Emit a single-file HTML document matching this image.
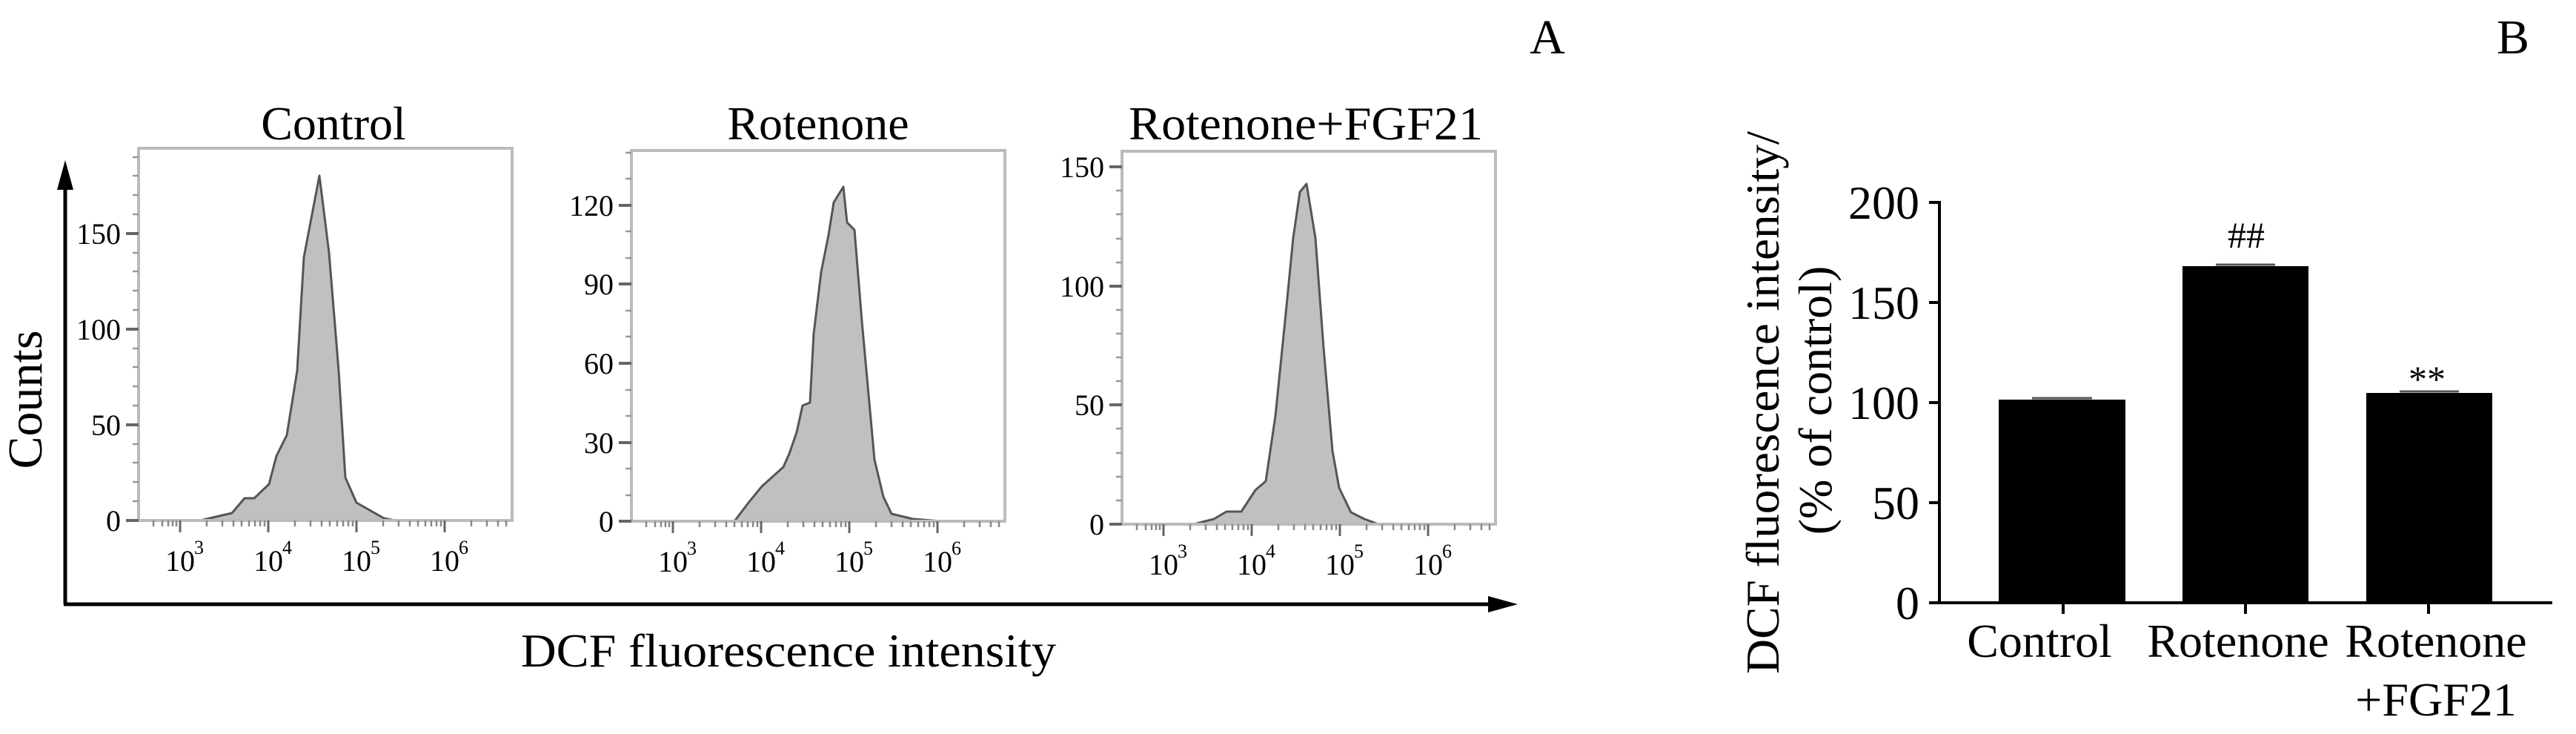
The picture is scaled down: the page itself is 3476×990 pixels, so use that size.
<!DOCTYPE html>
<html><head><meta charset="utf-8"><style>
html,body{margin:0;padding:0;background:#fff;}
svg{display:block;}
text{font-family:"Liberation Serif",serif;fill:#000;}
</style></head><body>
<svg width="3476" height="990" viewBox="0 0 3476 990" xmlns="http://www.w3.org/2000/svg">
<defs>
<g id="xticks">
  <!-- major ticks at dx 56,175,294,413 ; minor -->
  <g stroke="#666" stroke-width="3">
    <line x1="56" y1="0" x2="56" y2="16"/><line x1="175" y1="0" x2="175" y2="16"/>
    <line x1="294" y1="0" x2="294" y2="16"/><line x1="413" y1="0" x2="413" y2="16"/>
  </g>
  <g stroke="#888" stroke-width="2.5">
    <line x1="20" y1="0" x2="20" y2="8"/><line x1="32" y1="0" x2="32" y2="8"/><line x1="40" y1="0" x2="40" y2="8"/><line x1="46" y1="0" x2="46" y2="8"/><line x1="51" y1="0" x2="51" y2="8"/>
    <line x1="92" y1="0" x2="92" y2="8"/><line x1="113" y1="0" x2="113" y2="8"/><line x1="128" y1="0" x2="128" y2="8"/><line x1="139" y1="0" x2="139" y2="8"/><line x1="149" y1="0" x2="149" y2="8"/><line x1="157" y1="0" x2="157" y2="8"/><line x1="164" y1="0" x2="164" y2="8"/><line x1="170" y1="0" x2="170" y2="8"/>
    <line x1="211" y1="0" x2="211" y2="8"/><line x1="232" y1="0" x2="232" y2="8"/><line x1="247" y1="0" x2="247" y2="8"/><line x1="258" y1="0" x2="258" y2="8"/><line x1="268" y1="0" x2="268" y2="8"/><line x1="276" y1="0" x2="276" y2="8"/><line x1="283" y1="0" x2="283" y2="8"/><line x1="289" y1="0" x2="289" y2="8"/>
    <line x1="330" y1="0" x2="330" y2="8"/><line x1="351" y1="0" x2="351" y2="8"/><line x1="366" y1="0" x2="366" y2="8"/><line x1="377" y1="0" x2="377" y2="8"/><line x1="387" y1="0" x2="387" y2="8"/><line x1="395" y1="0" x2="395" y2="8"/><line x1="402" y1="0" x2="402" y2="8"/><line x1="408" y1="0" x2="408" y2="8"/>
    <line x1="449" y1="0" x2="449" y2="8"/><line x1="470" y1="0" x2="470" y2="8"/><line x1="485" y1="0" x2="485" y2="8"/><line x1="496" y1="0" x2="496" y2="8"/>
  </g>
  <g font-size="40">
    <text x="56" y="68" text-anchor="middle">10</text><text x="75" y="45" font-size="26">3</text>
    <text x="175" y="68" text-anchor="middle">10</text><text x="194" y="45" font-size="26">4</text>
    <text x="294" y="68" text-anchor="middle">10</text><text x="313" y="45" font-size="26">5</text>
    <text x="413" y="68" text-anchor="middle">10</text><text x="432" y="45" font-size="26">6</text>
  </g>
</g>
</defs>

<!-- Panel labels -->
<text x="2088" y="72" font-size="66" text-anchor="middle">A</text>
<text x="3391" y="72" font-size="66" text-anchor="middle">B</text>

<!-- Big axes arrows -->
<line x1="88" y1="815" x2="88" y2="240" stroke="#000" stroke-width="5"/>
<polygon points="88,216 77,256 99,256" fill="#000"/>
<line x1="86" y1="815" x2="2020" y2="815" stroke="#000" stroke-width="5"/>
<polygon points="2048,815 2008,804 2008,826" fill="#000"/>
<text transform="translate(56,539) rotate(-90)" font-size="66" text-anchor="middle">Counts</text>
<text x="703" y="899" font-size="64" textLength="722" lengthAdjust="spacingAndGlyphs">DCF fluorescence intensity</text>

<!-- Panel 1: Control -->
<g transform="translate(187,0)">
  <text x="263" y="188" font-size="64" text-anchor="middle">Control</text>
  <polygon points="0,702 83,702 126,692 143,672 156,672 176,653 186,615 200,587 214,500 223,347 244,237 257,341 270,500 279,644 294,678 331,699 346,702 504,702" fill="#c0c0c0" stroke="#555" stroke-width="3" stroke-linejoin="round"/>
  <rect x="0" y="200" width="504" height="502" fill="none" stroke="#bbb" stroke-width="4"/>
  <g stroke="#999" stroke-width="2.5">
    <line x1="-8" y1="676" x2="0" y2="676"/><line x1="-8" y1="650" x2="0" y2="650"/><line x1="-8" y1="624" x2="0" y2="624"/><line x1="-8" y1="599" x2="0" y2="599"/>
    <line x1="-8" y1="547" x2="0" y2="547"/><line x1="-8" y1="521" x2="0" y2="521"/><line x1="-8" y1="495" x2="0" y2="495"/><line x1="-8" y1="470" x2="0" y2="470"/>
    <line x1="-8" y1="418" x2="0" y2="418"/><line x1="-8" y1="392" x2="0" y2="392"/><line x1="-8" y1="366" x2="0" y2="366"/><line x1="-8" y1="341" x2="0" y2="341"/>
    <line x1="-8" y1="289" x2="0" y2="289"/><line x1="-8" y1="263" x2="0" y2="263"/><line x1="-8" y1="237" x2="0" y2="237"/><line x1="-8" y1="212" x2="0" y2="212"/>
  </g>
  <g stroke="#666" stroke-width="4">
    <line x1="-17" y1="702" x2="0" y2="702"/><line x1="-17" y1="573" x2="0" y2="573"/><line x1="-17" y1="444" x2="0" y2="444"/><line x1="-17" y1="315" x2="0" y2="315"/>
  </g>
  <g font-size="40" text-anchor="end">
    <text x="-24" y="716">0</text><text x="-24" y="587">50</text><text x="-24" y="458">100</text><text x="-24" y="329">150</text>
  </g>
  <g transform="translate(0,702)"><use href="#xticks"/></g>
</g>

<!-- Panel 2: Rotenone -->
<g transform="translate(852,0)">
  <text x="252" y="188" font-size="64" text-anchor="middle">Rotenone</text>
  <polygon points="0,703 139,703 158,678 176,656 205,630 213,612 223,583 231,547 241,543 246,450 256,367 266,317 273,273 286,252 291,300 301,310 311,433 321,543 328,620 340,670 351,693 380,700 418,703 504,703" fill="#c0c0c0" stroke="#555" stroke-width="3" stroke-linejoin="round"/>
  <rect x="0" y="203" width="504" height="500" fill="none" stroke="#bbb" stroke-width="4"/>
  <g stroke="#999" stroke-width="2.5">
    <line x1="-8" y1="668" x2="0" y2="668"/><line x1="-8" y1="632" x2="0" y2="632"/>
    <line x1="-8" y1="561" x2="0" y2="561"/><line x1="-8" y1="526" x2="0" y2="526"/>
    <line x1="-8" y1="454" x2="0" y2="454"/><line x1="-8" y1="419" x2="0" y2="419"/>
    <line x1="-8" y1="348" x2="0" y2="348"/><line x1="-8" y1="312" x2="0" y2="312"/>
    <line x1="-8" y1="241" x2="0" y2="241"/><line x1="-8" y1="206" x2="0" y2="206"/>
  </g>
  <g stroke="#666" stroke-width="4">
    <line x1="-17" y1="703" x2="0" y2="703"/><line x1="-17" y1="597" x2="0" y2="597"/><line x1="-17" y1="490" x2="0" y2="490"/><line x1="-17" y1="383" x2="0" y2="383"/><line x1="-17" y1="277" x2="0" y2="277"/>
  </g>
  <g font-size="40" text-anchor="end">
    <text x="-24" y="717">0</text><text x="-24" y="611">30</text><text x="-24" y="504">60</text><text x="-24" y="397">90</text><text x="-24" y="291">120</text>
  </g>
  <g transform="translate(0,703)"><use href="#xticks"/></g>
</g>

<!-- Panel 3: Rotenone+FGF21 -->
<g transform="translate(1514,0)">
  <text x="248" y="188" font-size="64" text-anchor="middle" textLength="478" lengthAdjust="spacingAndGlyphs">Rotenone+FGF21</text>
  <polygon points="0,707 97,707 124,700 141,690 161,690 180,661 194,649 207,561 221,423 231,321 240,259 249,248 261,321 272,469 284,608 293,658 309,691 327,700 346,707 504,707" fill="#c0c0c0" stroke="#555" stroke-width="3" stroke-linejoin="round"/>
  <rect x="0" y="204" width="504" height="503" fill="none" stroke="#bbb" stroke-width="4"/>
  <g stroke="#999" stroke-width="2.5">
    <line x1="-8" y1="675" x2="0" y2="675"/><line x1="-8" y1="643" x2="0" y2="643"/><line x1="-8" y1="611" x2="0" y2="611"/><line x1="-8" y1="578" x2="0" y2="578"/>
    <line x1="-8" y1="514" x2="0" y2="514"/><line x1="-8" y1="482" x2="0" y2="482"/><line x1="-8" y1="450" x2="0" y2="450"/><line x1="-8" y1="418" x2="0" y2="418"/>
    <line x1="-8" y1="354" x2="0" y2="354"/><line x1="-8" y1="322" x2="0" y2="322"/><line x1="-8" y1="289" x2="0" y2="289"/><line x1="-8" y1="257" x2="0" y2="257"/>
  </g>
  <g stroke="#666" stroke-width="4">
    <line x1="-17" y1="707" x2="0" y2="707"/><line x1="-17" y1="546" x2="0" y2="546"/><line x1="-17" y1="386" x2="0" y2="386"/><line x1="-17" y1="225" x2="0" y2="225"/>
  </g>
  <g font-size="40" text-anchor="end">
    <text x="-24" y="721">0</text><text x="-24" y="560">50</text><text x="-24" y="400">100</text><text x="-24" y="239">150</text>
  </g>
  <g transform="translate(0,707)"><use href="#xticks"/></g>
</g>

<!-- Bar chart B -->
<text transform="translate(2400,543) rotate(-90)" font-size="64" text-anchor="middle" textLength="732" lengthAdjust="spacingAndGlyphs">DCF fluorescence intensity/</text>
<text transform="translate(2471,540) rotate(-90)" font-size="64" text-anchor="middle">(% of control)</text>

<rect x="2697" y="539" width="171" height="274" fill="#000"/>
<line x1="2742" y1="537" x2="2823" y2="537" stroke="#555" stroke-width="3"/>
<rect x="2945" y="359" width="170" height="454" fill="#000"/>
<line x1="2990" y1="357" x2="3070" y2="357" stroke="#555" stroke-width="3"/>
<rect x="3193" y="530" width="170" height="283" fill="#000"/>
<line x1="3238" y1="528" x2="3318" y2="528" stroke="#555" stroke-width="3"/>

<line x1="2617" y1="271" x2="2617" y2="815" stroke="#000" stroke-width="4"/>
<line x1="2615" y1="813" x2="3444" y2="813" stroke="#000" stroke-width="4"/>
<g stroke="#000" stroke-width="4">
  <line x1="2603" y1="273" x2="2617" y2="273"/><line x1="2603" y1="408" x2="2617" y2="408"/><line x1="2603" y1="543" x2="2617" y2="543"/><line x1="2603" y1="678" x2="2617" y2="678"/><line x1="2603" y1="813" x2="2617" y2="813"/>
  <line x1="2784" y1="813" x2="2784" y2="828"/><line x1="3030" y1="813" x2="3030" y2="828"/><line x1="3277" y1="813" x2="3277" y2="828"/>
</g>
<g font-size="64" text-anchor="end">
  <text x="2590" y="295">200</text><text x="2590" y="430">150</text><text x="2590" y="565">100</text><text x="2590" y="700">50</text><text x="2590" y="835">0</text>
</g>
<g font-size="64" text-anchor="middle">
  <text x="2752" y="886">Control</text>
  <text x="3020" y="886">Rotenone</text>
  <text x="3287" y="886">Rotenone</text>
  <text x="3287" y="965">+FGF21</text>
</g>
<text x="3031" y="334" font-size="50" text-anchor="middle">##</text>
<text x="3275" y="528" font-size="50" text-anchor="middle">**</text>
</svg>
</body></html>
